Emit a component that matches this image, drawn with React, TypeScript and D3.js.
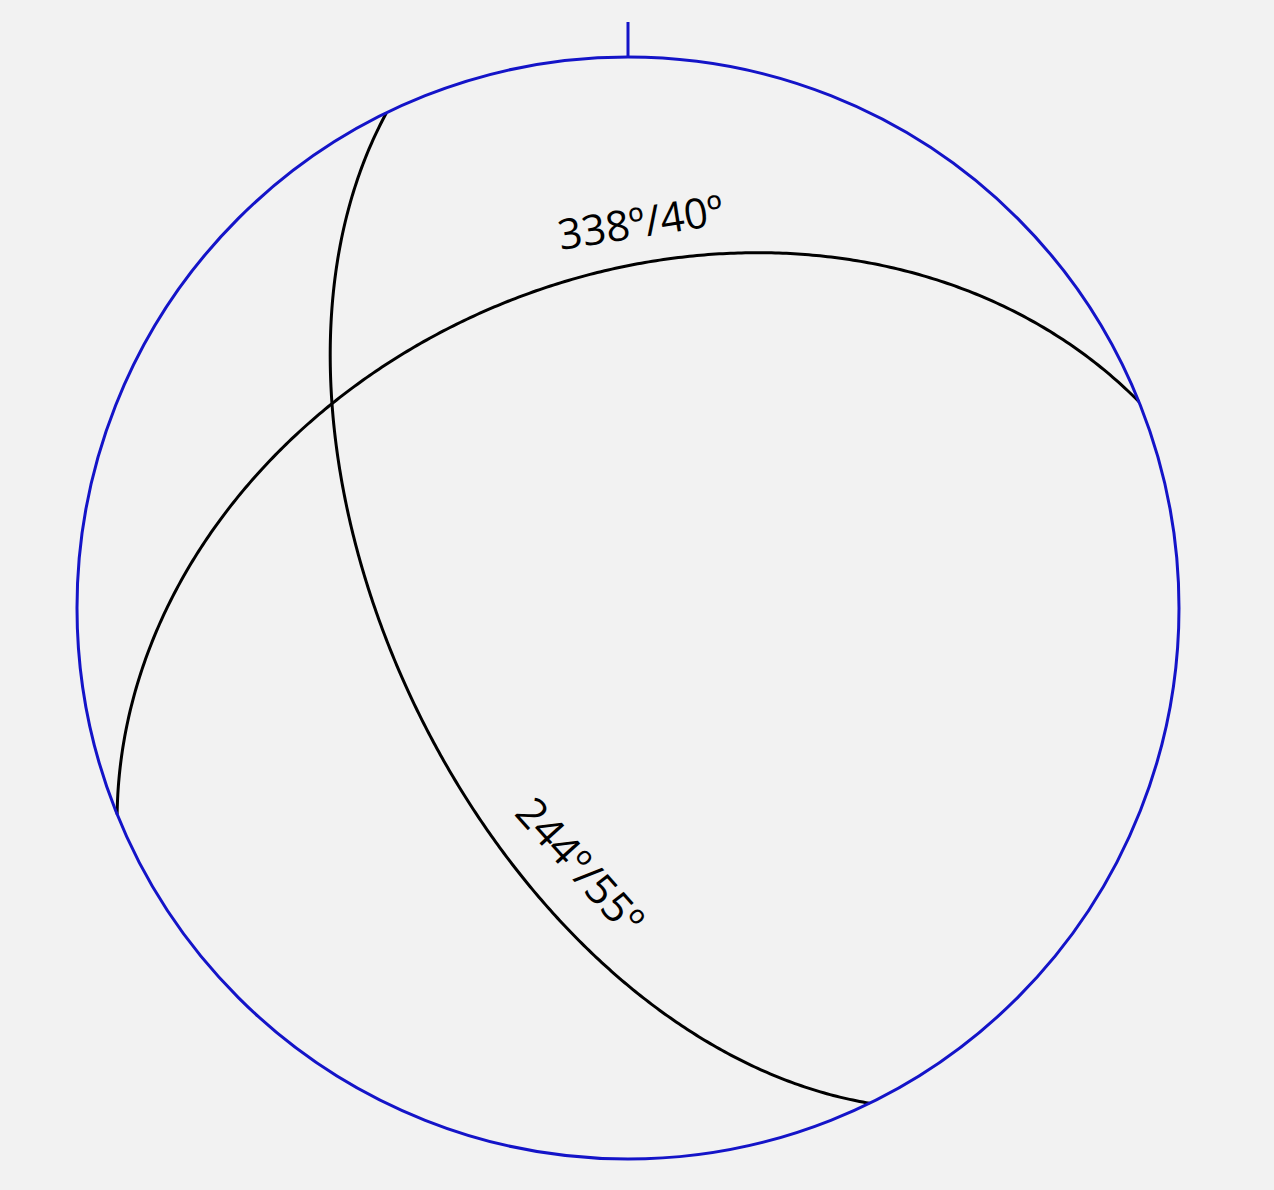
import React from 'react';
import * as d3 from 'd3';

// planes as dip direction / dip (lower hemisphere, equal-area net)
const dipDirections = [338, 244];
const dips = [40, 55];
const planeLabels = ['338º/40º', '244º/55º'];
// label placement along each great circle: position and text angle
const labelSpots = [
  { x: 643, y: 237, angle: -9 },
  { x: 569, y: 876, angle: 48 },
];

const width = 1274;
const height = 1190;
const cx = 628;
const cy = 608;
const R = 551;

const rad = (deg: number) => (deg * Math.PI) / 180;

// project a line (trend, plunge) onto the Schmidt net
const project = (trend: number, plunge: number): [number, number] => {
  const r = R * Math.SQRT2 * Math.sin(rad(90 - plunge) / 2);
  return [cx + r * Math.sin(rad(trend)), cy - r * Math.cos(rad(trend))];
};

const greatCircle = (dipDir: number, dip: number) => {
  const s = rad(dipDir - 90);
  const dd = rad(dipDir);
  const d = rad(dip);
  const strikeV = [Math.sin(s), Math.cos(s), 0];
  const dipV = [Math.sin(dd) * Math.cos(d), Math.cos(dd) * Math.cos(d), Math.sin(d)];
  return d3.range(0, 180.5, 0.5).map((t) => {
    const c = Math.cos(rad(t));
    const sn = Math.sin(rad(t));
    const e = c * strikeV[0] + sn * dipV[0];
    const n = c * strikeV[1] + sn * dipV[1];
    const down = Math.min(1, Math.max(-1, c * strikeV[2] + sn * dipV[2]));
    const plunge = (Math.asin(down) * 180) / Math.PI;
    const trend = (Math.atan2(e, n) * 180) / Math.PI;
    return project(trend, plunge);
  });
};

const line = d3.line<[number, number]>().curve(d3.curveLinear);

export default function App() {
  return (
    <svg
      width={width}
      height={height}
      style={{ display: 'block', position: 'absolute', left: 0, top: 0, background: '#f2f2f2' }}
    >
      <rect width={width} height={height} fill="#f2f2f2" />
      {dipDirections.map((dd, i) => (
        <path key={i} d={line(greatCircle(dd, dips[i])) ?? ''} fill="none" stroke="#000" strokeWidth={3} />
      ))}
      <circle cx={cx} cy={cy} r={R} fill="none" stroke="#1414c8" strokeWidth={3} />
      <line x1={cx} x2={cx} y1={cy - R} y2={cy - R - 35} stroke="#1414c8" strokeWidth={3} />
      {planeLabels.map((lab, i) => (
        <text
          key={lab}
          transform={`translate(${labelSpots[i].x},${labelSpots[i].y}) rotate(${labelSpots[i].angle})`}
          textAnchor="middle"
          fontFamily="'Open Sans', 'DejaVu Sans', sans-serif"
          fontSize={42}
          fill="#000"
        >
          {lab}
        </text>
      ))}
    </svg>
  );
}
